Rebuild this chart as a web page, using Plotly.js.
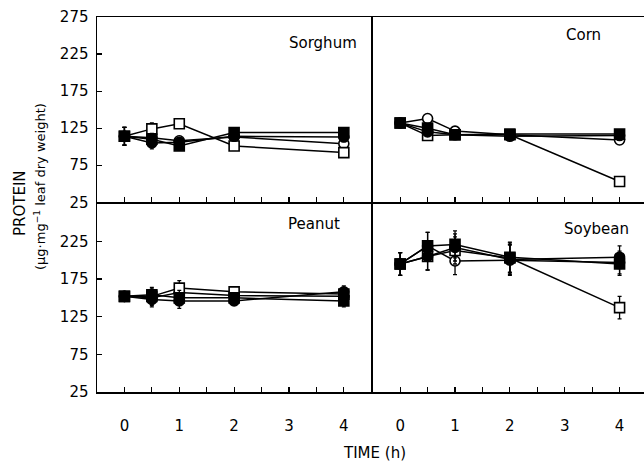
<!DOCTYPE html>
<html><head><meta charset="utf-8">
<script src="https://cdn.plot.ly/plotly-3.0.1.min.js"></script>
<style>html,body{margin:0;padding:0;overflow:hidden;background:#fff}</style>
</head><body><div id="plot"></div>
<script>
const time = [0, 0.5, 1, 2, 4];
const panels = ["Sorghum", "Corn", "Peanut", "Soybean"];
// series: open circle, filled circle, open square, filled square
const sorghumOC = [114, 112, 108, 113, 104];
const sorghumFC = [114, 105, 106, 114, 113];
const sorghumOS = [114, 124, 131, 101, 92];
const sorghumFS = [114, 110, 101, 119, 119];
const sorghumErr = [12, 8, 6, 6, 6];
const cornOC = [132, 138, 121, 116, 109];
const cornFC = [132, 120, 116, 114, 115];
const cornOS = [132, 115, 116, 116, 53];
const cornFS = [132, 125, 116, 117, 117];
const cornErr = [4, 4, 3, 3, 3];
const peanutOC = [152, 150, 157, 153, 152];
const peanutFC = [152, 148, 146, 146, 158];
const peanutOS = [152, 152, 163, 158, 155];
const peanutFS = [152, 154, 150, 150, 146];
const peanutErr = [4, 10, 10, 6, 8];
const soybeanOC = [195, 219, 199, 200, 197];
const soybeanFC = [195, 205, 217, 201, 204];
const soybeanOS = [195, 205, 213, 203, 137];
const soybeanFS = [195, 219, 221, 204, 195];
const soybeanErr = [15, 18, 18, 20, 15];
const yTicksTop = [25, 75, 125, 175, 225, 275];
const yTicksBottom = [25, 75, 125, 175, 225];
const xTicks = [0, 1, 2, 3, 4];

const W = 650, H = 463;
const px = v => v / W, py = v => 1 - v / H;

const panelData = [
  {oc: sorghumOC, fc: sorghumFC, os: sorghumOS, fs: sorghumFS, err: sorghumErr, xa: 'x', ya: 'y'},
  {oc: cornOC, fc: cornFC, os: cornOS, fs: cornFS, err: cornErr, xa: 'x2', ya: 'y2'},
  {oc: peanutOC, fc: peanutFC, os: peanutOS, fs: peanutFS, err: peanutErr, xa: 'x3', ya: 'y3'},
  {oc: soybeanOC, fc: soybeanFC, os: soybeanOS, fs: soybeanFS, err: soybeanErr, xa: 'x4', ya: 'y4'}
];
const styles = [
  {key: 'oc', symbol: 'circle', fill: '#fff'},
  {key: 'os', symbol: 'square', fill: '#fff'},
  {key: 'fc', symbol: 'circle', fill: '#000'},
  {key: 'fs', symbol: 'square', fill: '#000'}
];
const traces = [];
panelData.forEach(p => {
  styles.forEach(s => {
    traces.push({
      x: time, y: p[s.key], xaxis: p.xa, yaxis: p.ya, type: 'scatter', mode: 'lines+markers',
      line: {color: '#000', width: 1.5},
      marker: {symbol: s.symbol, size: 10, color: s.fill, line: {color: '#000', width: 1.6}},
      error_y: {type: 'data', array: p.err, visible: true, color: '#000', thickness: 1.3, width: 2},
      showlegend: false, hoverinfo: 'skip', cliponaxis: false
    });
  });
});

const fam = 'DejaVu Sans, Verdana, sans-serif';
const font = {family: fam, size: 15, color: '#000'};
function xax(domain, labels) {
  return {domain: domain, range: [-0.5, 4.5], showline: true, mirror: true, linecolor: '#000', linewidth: 1.5,
    tickvals: xTicks, ticktext: xTicks.map(String), showticklabels: labels, ticks: 'inside', ticklen: 5, tickwidth: 1.2,
    tickcolor: '#000', minor: {dtick: 0.5, tick0: 0, ticks: 'inside', ticklen: 5, tickwidth: 1.2, tickcolor: '#000'},
    showgrid: false, zeroline: false, tickfont: font, ticklabelstandoff: 19, fixedrange: true};
}
function yax(domain, vals, labels) {
  return {domain: domain, range: [25, 275], showline: true, mirror: true, linecolor: '#000', linewidth: 1.5,
    tickvals: vals, ticktext: vals.map(String), showticklabels: labels, ticks: labels ? 'inside' : '', ticklen: 5,
    tickwidth: 1.2, tickcolor: '#000', showgrid: false, zeroline: false, tickfont: font, ticklabelstandoff: 4, fixedrange: true};
}
const xL = [px(97), px(371.25)], xR = [px(372.75), px(647)];
const yT = [py(202.25), py(17)], yB = [py(392), py(203.75)];
const ann = (text, x, y, extra) => Object.assign({text: text, x: px(x), y: py(y), xref: 'paper', yref: 'paper',
  xanchor: 'center', yanchor: 'middle', showarrow: false, font: font}, extra || {});
const layout = {
  width: W, height: H, margin: {l: 0, r: 0, t: 0, b: 0},
  paper_bgcolor: '#fff', plot_bgcolor: '#fff', font: font,
  xaxis: Object.assign(xax(xL, false), {anchor: 'y'}),
  yaxis: Object.assign(yax(yT, yTicksTop, true), {anchor: 'x'}),
  xaxis2: Object.assign(xax(xR, false), {anchor: 'y2'}),
  yaxis2: Object.assign(yax(yT, yTicksTop, false), {anchor: 'x2'}),
  xaxis3: Object.assign(xax(xL, true), {anchor: 'y3'}),
  yaxis3: Object.assign(yax(yB, yTicksBottom, true), {anchor: 'x3'}),
  xaxis4: Object.assign(xax(xR, true), {anchor: 'y4'}),
  yaxis4: Object.assign(yax(yB, yTicksBottom, false), {anchor: 'x4'}),
  annotations: [
    ann(panels[0], 323, 43),
    ann(panels[1], 583, 35),
    ann(panels[2], 314, 224),
    ann(panels[3], 596, 229),
    ann('PROTEIN', 20, 203, {textangle: -90}),
    ann('(μg·mg<sup>−1</sup> leaf dry weight)', 40, 187, {textangle: -90, font: {family: fam, size: 13, color: '#000'}}),
    ann('TIME (h)', 375, 453)
  ]
};
Plotly.newPlot('plot', traces, layout, {displayModeBar: false, staticPlot: true});
</script></body></html>
